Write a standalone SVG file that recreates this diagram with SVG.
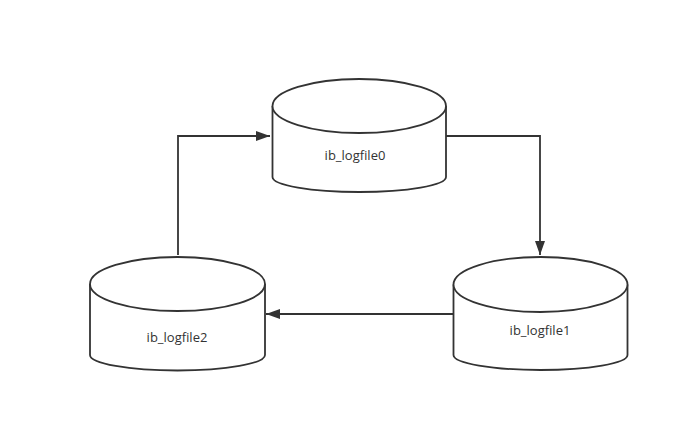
<svg xmlns="http://www.w3.org/2000/svg" width="690" height="434" viewBox="0 0 690 434">
<style>
.cyl{fill:#fff;stroke:#333;stroke-width:1.8}
.lbl{font-family:"Open Sans","Noto Sans","Liberation Sans",sans-serif;font-size:13px;fill:#333;text-anchor:middle}
.edge{fill:none;stroke:#333;stroke-width:1.8}
</style>
<defs>
<marker id="arr" viewBox="0 0 14 10" refX="14" refY="5" markerWidth="14" markerHeight="10" markerUnits="userSpaceOnUse" orient="auto">
<path d="M0,0 L14,5 L0,10 Z" fill="#333"/>
</marker>
</defs>
<rect width="690" height="434" fill="#fff"/>
<g id="connectors">
<path class="edge" d="M178,255 V136 H270" marker-end="url(#arr)"/>
<path class="edge" d="M446,136 H540 V255" marker-end="url(#arr)"/>
<path class="edge" d="M453,314 H266" marker-end="url(#arr)"/>
</g>
<g id="ib_logfile0">
<path class="cyl" d="M272.5,106 V177 A86.75,15 0 0 0 446,177 V106"/>
<ellipse class="cyl" cx="359.25" cy="106" rx="86.75" ry="27"/>
<text class="lbl" x="355" y="160">ib_logfile0</text>
</g>
<g id="ib_logfile1">
<path class="cyl" d="M453.5,284.5 V355 A87,15 0 0 0 627.5,355 V284.5"/>
<ellipse class="cyl" cx="540.5" cy="284.5" rx="87" ry="27.5"/>
<text class="lbl" x="540" y="335">ib_logfile1</text>
</g>
<g id="ib_logfile2">
<path class="cyl" d="M90,284 V355 A87.5,15.5 0 0 0 265,355 V284"/>
<ellipse class="cyl" cx="177.5" cy="284" rx="87.5" ry="27"/>
<text class="lbl" x="177" y="342">ib_logfile2</text>
</g>
</svg>
